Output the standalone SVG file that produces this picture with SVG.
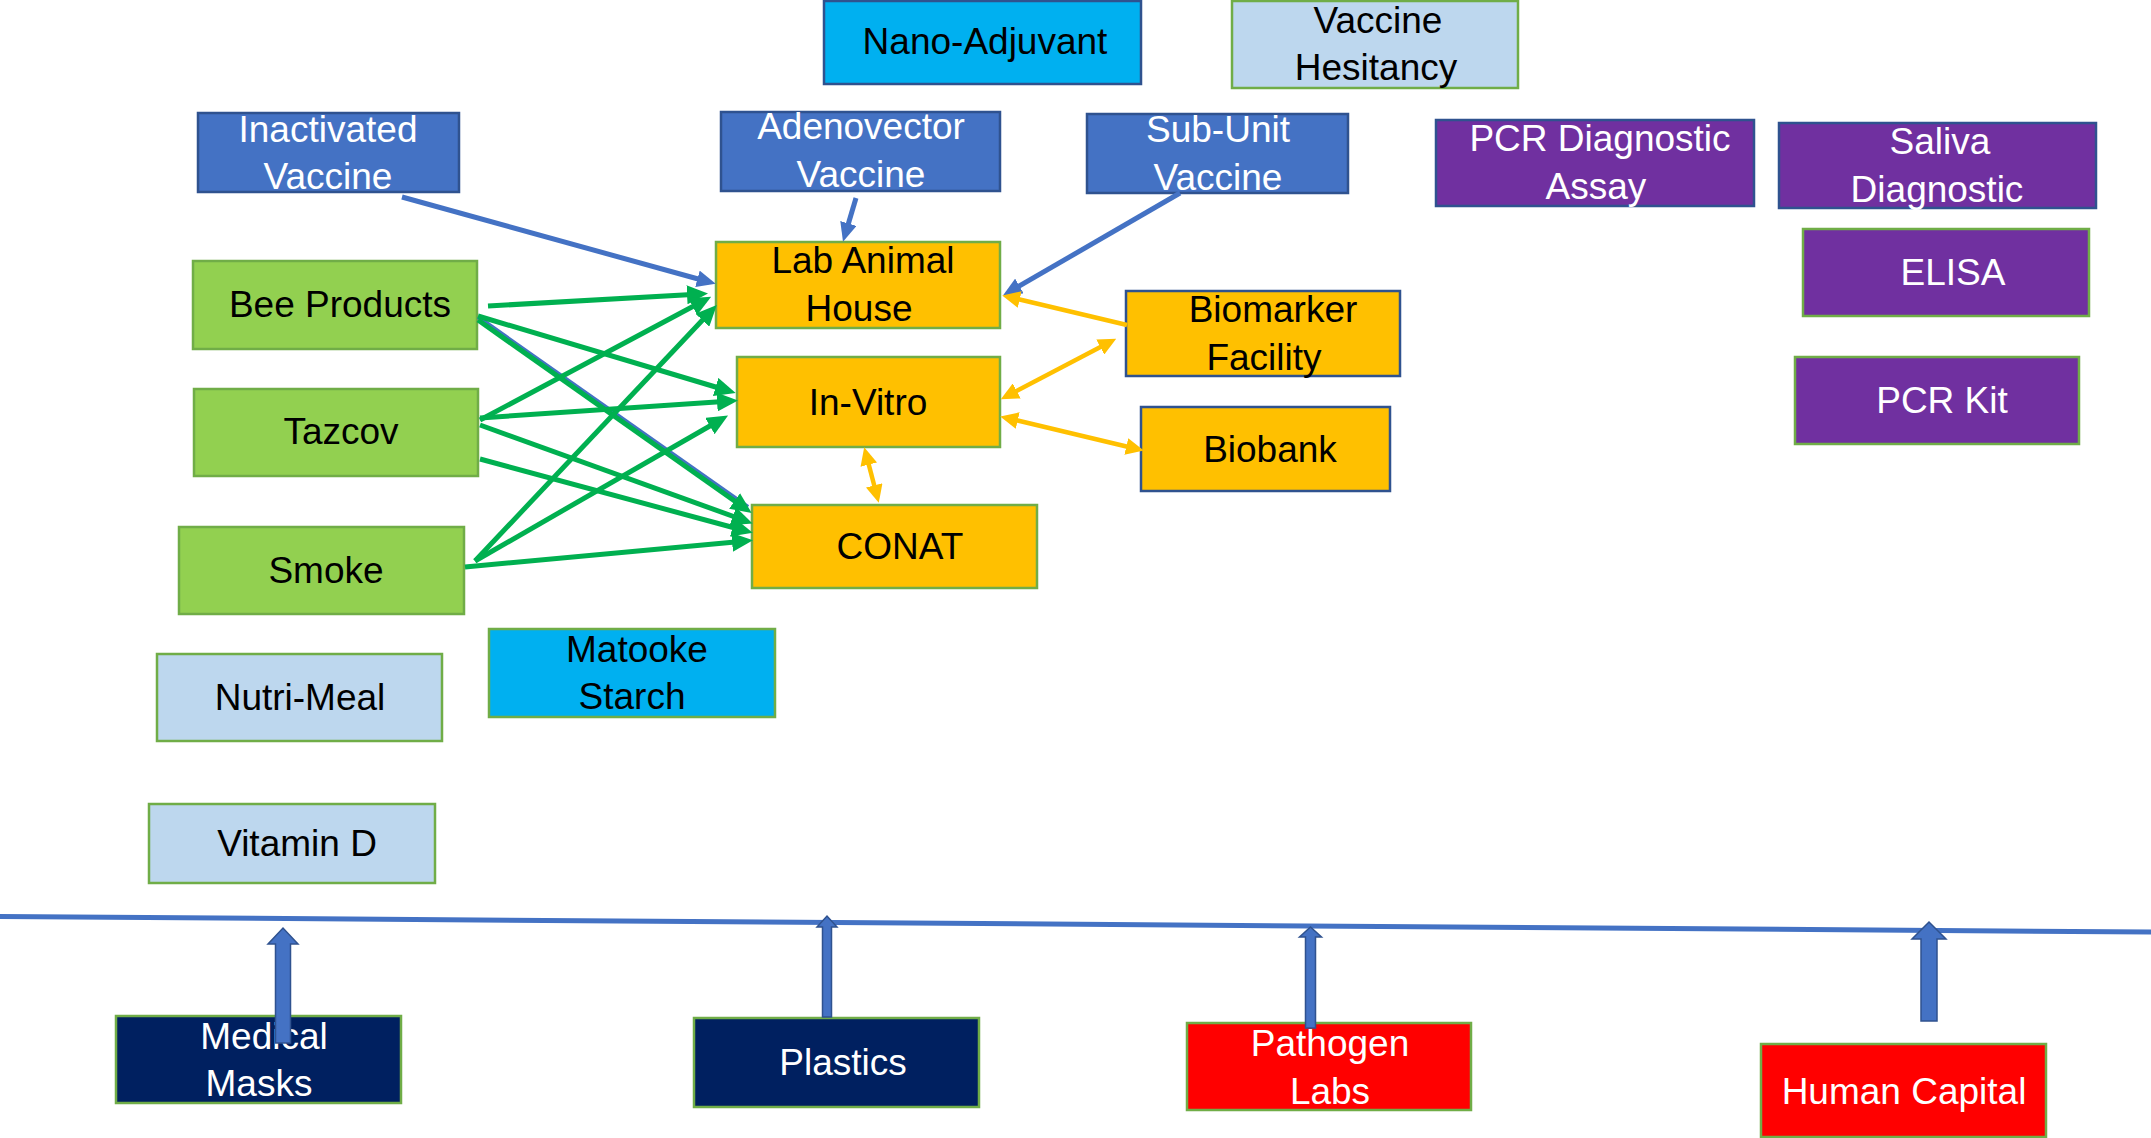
<svg xmlns="http://www.w3.org/2000/svg" width="2151" height="1138" viewBox="0 0 2151 1138">
<style>
rect{stroke-width:2.5}
text{font-family:"Liberation Sans",Arial,sans-serif;font-size:37px;text-anchor:middle}
.blue{fill:#4472C4;stroke:#2F528F}
.purpB{fill:#7030A0;stroke:#2F528F}
.purpG{fill:#7030A0;stroke:#70AD47}
.cyanB{fill:#00B0F0;stroke:#2F528F}
.cyanG{fill:#00B0F0;stroke:#70AD47}
.pale{fill:#BDD7EE;stroke:#70AD47}
.green{fill:#92D050;stroke:#70AD47}
.orgG{fill:#FFC000;stroke:#70AD47}
.orgB{fill:#FFC000;stroke:#2F528F}
.navy{fill:#002060;stroke:#70AD47}
.red{fill:#FF0000;stroke:#70AD47}
.w{fill:#FFFFFF}
.k{fill:#000000}
.gl{stroke:#00B050;stroke-width:5;fill:none;marker-end:url(#ag)}
.bl{stroke:#4472C4;stroke-width:5;fill:none;marker-end:url(#ab)}
.yl{stroke:#FFC000;stroke-width:4.5;fill:none;marker-end:url(#ay)}
.yl2{stroke:#FFC000;stroke-width:4.5;fill:none;marker-end:url(#ay);marker-start:url(#ay)}
.barrow{fill:#4472C4;stroke:#2F528F;stroke-width:1.5}
</style>
<defs>
<marker id="ag" markerUnits="userSpaceOnUse" markerWidth="21" markerHeight="19" viewBox="0 0 21 19" refX="14" refY="9.5" orient="auto"><path d="M0,0 L21,9.5 L0,19 z" fill="#00B050"/></marker>
<marker id="ab" markerUnits="userSpaceOnUse" markerWidth="19" markerHeight="17" viewBox="0 0 19 17" refX="12" refY="8.5" orient="auto"><path d="M0,0 L19,8.5 L0,17 z" fill="#4472C4"/></marker>
<marker id="ay" markerUnits="userSpaceOnUse" markerWidth="18" markerHeight="17" viewBox="0 0 18 17" refX="11" refY="8.5" orient="auto-start-reverse"><path d="M0,0 L18,8.5 L0,17 z" fill="#FFC000"/></marker>
</defs>

<line x1="0" y1="916.5" x2="2151" y2="932" stroke="#4472C4" stroke-width="5"/>

<g id="nano-adjuvant"><rect class="cyanB" x="824" y="1" width="317" height="83"/><text class="k" x="985" y="54">Nano-Adjuvant</text></g>
<g id="vaccine-hesitancy"><rect class="pale" x="1232" y="1" width="286" height="87"/><text class="k" x="1378" y="33">Vaccine</text><text class="k" x="1376" y="80">Hesitancy</text></g>
<g id="inactivated-vaccine"><rect class="blue" x="198" y="113" width="261" height="79"/><text class="w" x="328" y="142">Inactivated</text><text class="w" x="328" y="189">Vaccine</text></g>
<g id="adenovector-vaccine"><rect class="blue" x="721" y="112" width="279" height="79"/><text class="w" x="861" y="139">Adenovector</text><text class="w" x="861" y="187">Vaccine</text></g>
<g id="sub-unit-vaccine"><rect class="blue" x="1087" y="114" width="261" height="79"/><text class="w" x="1218" y="142">Sub-Unit</text><text class="w" x="1218" y="190">Vaccine</text></g>
<g id="pcr-diagnostic-assay"><rect class="purpB" x="1436" y="120" width="318" height="86"/><text class="w" x="1600" y="151">PCR Diagnostic</text><text class="w" x="1596" y="199">Assay</text></g>
<g id="saliva-diagnostic"><rect class="purpB" x="1779" y="123" width="317" height="85"/><text class="w" x="1940" y="154">Saliva</text><text class="w" x="1937" y="202">Diagnostic</text></g>
<g id="elisa"><rect class="purpG" x="1803" y="229" width="286" height="87"/><text class="w" x="1953" y="285">ELISA</text></g>
<g id="pcr-kit"><rect class="purpG" x="1795" y="357" width="284" height="87"/><text class="w" x="1942" y="413">PCR Kit</text></g>

<g id="lab-animal-house"><rect class="orgG" x="716" y="242" width="284" height="86"/><text class="k" x="863" y="273">Lab Animal</text><text class="k" x="859" y="321">House</text></g>
<g id="biomarker-facility"><rect class="orgB" x="1126" y="291" width="274" height="85"/><text class="k" x="1273" y="322">Biomarker</text><text class="k" x="1264" y="370">Facility</text></g>
<g id="in-vitro"><rect class="orgG" x="737" y="357" width="263" height="90"/><text class="k" x="868" y="415">In-Vitro</text></g>
<g id="biobank"><rect class="orgB" x="1141" y="407" width="249" height="84"/><text class="k" x="1270" y="462">Biobank</text></g>
<g id="conat"><rect class="orgG" x="752" y="505" width="285" height="83"/><text class="k" x="900" y="559">CONAT</text></g>

<g id="bee-products"><rect class="green" x="193" y="261" width="284" height="88"/><text class="k" x="340" y="317">Bee Products</text></g>
<g id="tazcov"><rect class="green" x="194" y="389" width="284" height="87"/><text class="k" x="341" y="444">Tazcov</text></g>
<g id="smoke"><rect class="green" x="179" y="527" width="285" height="87"/><text class="k" x="326" y="583">Smoke</text></g>
<g id="nutri-meal"><rect class="pale" x="157" y="654" width="285" height="87"/><text class="k" x="300" y="710">Nutri-Meal</text></g>
<g id="matooke-starch"><rect class="cyanG" x="489" y="629" width="286" height="88"/><text class="k" x="637" y="662">Matooke</text><text class="k" x="632" y="709">Starch</text></g>
<g id="vitamin-d"><rect class="pale" x="149" y="804" width="286" height="79"/><text class="k" x="297" y="856">Vitamin D</text></g>

<g id="medical-masks"><rect class="navy" x="116" y="1016" width="285" height="87"/><text class="w" x="264" y="1049">Medical</text><text class="w" x="259" y="1096">Masks</text></g>
<g id="plastics"><rect class="navy" x="694" y="1018" width="285" height="89"/><text class="w" x="843" y="1075">Plastics</text></g>
<g id="pathogen-labs"><rect class="red" x="1187" y="1023" width="284" height="87"/><text class="w" x="1330" y="1056">Pathogen</text><text class="w" x="1330" y="1104">Labs</text></g>
<g id="human-capital"><rect class="red" x="1761" y="1044" width="285" height="93"/><text class="w" x="1904" y="1104">Human Capital</text></g>

<g id="connectors">
<line x1="478" y1="317" x2="748" y2="507" stroke="#4472C4" stroke-width="4"/>
<line class="gl" x1="488" y1="306" x2="701" y2="294"/>
<line class="gl" x1="478" y1="316" x2="729" y2="391"/>
<line class="gl" x1="478" y1="320" x2="746" y2="509"/>
<line class="gl" x1="480" y1="420" x2="705" y2="300"/>
<line class="gl" x1="480" y1="418" x2="731" y2="401"/>
<line class="gl" x1="480" y1="425" x2="746" y2="521"/>
<line class="gl" x1="480" y1="459" x2="746" y2="531"/>
<line class="gl" x1="475" y1="561" x2="712" y2="310"/>
<line class="gl" x1="475" y1="561" x2="722" y2="419"/>
<line class="gl" x1="465" y1="567" x2="746" y2="541"/>
<line class="bl" x1="402" y1="197" x2="709" y2="282"/>
<line class="bl" x1="856" y1="198" x2="845" y2="235"/>
<line class="bl" x1="1180" y1="193" x2="1009" y2="292"/>
<line class="yl" x1="1127" y1="325" x2="1009" y2="297"/>
<line class="yl2" x1="1007" y1="396" x2="1110" y2="342"/>
<line class="yl2" x1="1007" y1="418" x2="1137" y2="449"/>
<line class="yl2" x1="866" y1="454" x2="877" y2="496"/>
<path class="barrow" d="M275.5,1043 L275.5,944 L268,944 L283,928 L298,944 L290.5,944 L290.5,1043 Z"/>
<path class="barrow" d="M822.5,1017 L822.5,927 L817,927 L827,916 L837,927 L831.5,927 L831.5,1017 Z"/>
<path class="barrow" d="M1305.5,1028 L1305.5,937 L1299.5,937 L1310.5,927 L1321.5,937 L1315.5,937 L1315.5,1028 Z"/>
<path class="barrow" d="M1921,1021 L1921,939 L1912,939 L1929,922 L1946,939 L1937,939 L1937,1021 Z"/>
</g>
</svg>
